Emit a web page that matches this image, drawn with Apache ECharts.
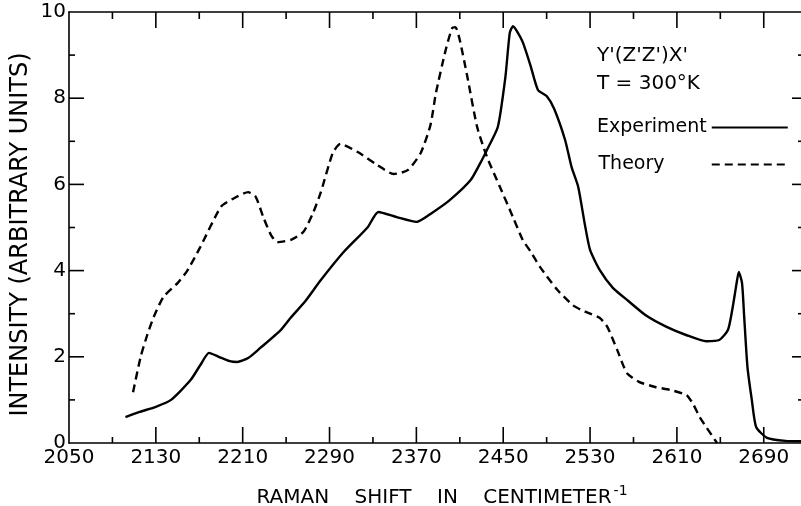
<!DOCTYPE html>
<html>
<head>
<meta charset="utf-8">
<script src="https://cdn.jsdelivr.net/npm/echarts@6/dist/echarts.min.js"></script>
<style>html,body{margin:0;padding:0;background:#fff}#c{width:801px;height:506px}</style>
</head>
<body>
<div id="c"></div>
<script>
// Raman shift (cm^-1) / intensity (arbitrary units)
var expX = [2102,2115,2130,2144,2162,2171,2179,2188,2198,2205,2215,2226,2245,2254,2268,2282,2303,2325,2335,2352,2370,2385,2401,2420,2429,2435,2445,2452,2456,2459,2463,2468,2475,2482,2490,2497,2507,2513,2519,2525,2530,2539,2551,2565,2582,2600,2619,2637,2649,2657,2661,2665,2667,2670,2672,2675,2679,2683,2693,2710,2728];
var expY = [0.60,0.72,0.84,1.0,1.46,1.81,2.09,2.0,1.90,1.88,1.97,2.2,2.62,2.9,3.3,3.78,4.43,5.0,5.36,5.24,5.13,5.35,5.64,6.1,6.5,6.8,7.33,8.49,9.51,9.67,9.54,9.3,8.77,8.19,8.05,7.75,7.03,6.4,5.95,5.1,4.48,4.01,3.6,3.3,2.95,2.7,2.5,2.36,2.39,2.62,3.09,3.71,3.97,3.71,2.92,1.76,1.0,0.37,0.12,0.05,0.04];
var thX = [2109,2116,2122,2128,2137,2150,2159,2171,2190,2202,2215,2222,2229,2236,2242,2255,2266,2275,2282,2293,2300,2316,2334,2349,2362,2374,2383,2388,2397,2403,2406,2410,2417,2426,2435,2447,2459,2468,2475,2484,2500,2514,2521,2530,2539,2546,2555,2564,2575,2590,2604,2619,2625,2631,2647];
var thY = [1.18,2.0,2.5,2.92,3.39,3.71,4.0,4.55,5.48,5.68,5.82,5.71,5.24,4.83,4.66,4.72,4.9,5.35,5.82,6.73,6.94,6.75,6.45,6.24,6.33,6.73,7.38,8.12,9.12,9.63,9.65,9.35,8.49,7.33,6.64,5.94,5.24,4.71,4.45,4.08,3.55,3.2,3.1,3.0,2.9,2.69,2.16,1.62,1.42,1.3,1.23,1.11,0.9,0.6,0.0];
var xMajor = [2050,2130,2210,2290,2370,2450,2530,2610,2690];
var xMinor = [2090,2170,2250,2330,2410,2490,2570,2650];
var yMajor = [0,2,4,6,8,10];
var yMinor = [1,3,5,7,9];
var seriesNames = ['Experiment','Theory'];
var headerLines = ["Y'(Z'Z')X'", 'T = 300°K'];
var xTitle = 'RAMAN    SHIFT    IN    CENTIMETER';
var yTitle = 'INTENSITY (ARBITRARY UNITS)';

function pairs(xs, ys){ return xs.map(function(x,i){ return [x, ys[i]]; }); }

var FONT = 'DejaVu Sans';
var XMIN = 2050, XMAX = 2728, YMIN = 0, YMAX = 10;
var lineBlack = {color:'#000', width:1.6};

function xMain(pos, labels){
  return {
    type:'value', min:XMIN, max:XMAX, position:pos, gridIndex:0, offset:0,
    axisLine:{show:true, onZero:false, lineStyle:lineBlack},
    axisTick:{show:false},
    axisLabel:labels ? {show:true, customValues:xMajor, color:'#000', fontSize:20, fontFamily:FONT, margin:5,
      formatter:function(v){ return String(v); }} : {show:false},
    splitLine:{show:false}
  };
}
function yMain(pos, labels){
  return {
    type:'value', min:YMIN, max:YMAX, position:pos, gridIndex:0, offset:0,
    axisLine:{show:true, onZero:false, lineStyle:lineBlack},
    axisTick:{show:false},
    axisLabel:labels ? {show:true, customValues:yMajor, color:'#000', fontSize:20, fontFamily:FONT, margin:3,
      formatter:function(v){ return String(v); }} : {show:false},
    splitLine:{show:false}
  };
}

var x0 = xMain('bottom', true);
x0.name = '{a|' + xTitle + '}{s|-1}';
x0.nameLocation = 'middle';
x0.nameGap = 41;
x0.nameTextStyle = {rich:{
  a:{fontSize:20, fontFamily:FONT, color:'#000', lineHeight:24, verticalAlign:'bottom', padding:[0,0,0,10]},
  s:{fontSize:14, fontFamily:FONT, color:'#000', lineHeight:24, verticalAlign:'top', padding:[0,0,0,2]}
}};
var y0 = yMain('left', true);
y0.name = yTitle;
y0.nameLocation = 'middle';
y0.nameGap = 36;
y0.nameMoveOverlap = false;
y0.nameTextStyle = {fontSize:24, fontFamily:FONT, color:'#000', padding:[0,14,0,0]};

var textGraphics = [
  {type:'text', left:597, top:46, style:{text:headerLines[0], font:'20px "DejaVu Sans"', fill:'#000'}},
  {type:'text', left:597, top:74, style:{text:headerLines[1], font:'20px "DejaVu Sans"', fill:'#000'}}
];

var option = {
  animation:false,
  backgroundColor:'#fff',
  grid:{left:69, right:-4, top:12, bottom:63, containLabel:false, outerBoundsMode:'none'},
  xAxis:[x0, xMain('top', false)],
  yAxis:[y0, yMain('right', false)],
  legend:{
    left:592, top:113, orient:'vertical', align:'right', itemWidth:76, itemHeight:14, itemGap:18,
    textStyle:{fontSize:19, fontFamily:FONT, color:'#000'},
    itemStyle:{color:'rgba(0,0,0,0)', borderWidth:0, opacity:0},
    formatter:function(n){ return n === 'Theory' ? n + '       ' : n; },
    data:seriesNames
  },
  graphic:textGraphics,
  series:[
    {name:seriesNames[0], type:'line', xAxisIndex:0, yAxisIndex:0, data:pairs(expX, expY), symbol:'none', smooth:0.2,
     lineStyle:{color:'#000', width:2.4}, itemStyle:{color:'#000'}},
    {name:seriesNames[1], type:'line', xAxisIndex:0, yAxisIndex:0, data:pairs(thX, thY), symbol:'none', smooth:0.2,
     lineStyle:{color:'#000', width:2.4, type:[8,5]}, itemStyle:{color:'#000'}}
  ]
};
var chart = echarts.init(document.getElementById('c'), null, {renderer:'canvas'});
chart.setOption(option);

// inward-pointing frame ticks, positioned through the chart's own scales
function toPx(x, y){ return chart.convertToPixel({xAxisIndex:0, yAxisIndex:0}, [x, y]); }
function tick(x1, y1, x2, y2){
  return {type:'line', silent:true, z:20, shape:{x1:x1, y1:y1, x2:x2, y2:y2}, style:{stroke:'#000', lineWidth:1.6}};
}
var ticks = [];
var yBottom = toPx(XMIN, YMIN)[1], yTop = toPx(XMIN, YMAX)[1];
var xLeft = toPx(XMIN, YMIN)[0], xRight = toPx(XMAX, YMIN)[0];
function addX(vals, lenB, lenT){
  vals.forEach(function(v){
    var px = toPx(v, YMIN)[0];
    ticks.push(tick(px, yBottom, px, yBottom - lenB));
    ticks.push(tick(px, yTop, px, yTop + lenT));
  });
}
function addY(vals, lenL, lenR){
  vals.forEach(function(v){
    var py = toPx(XMIN, v)[1];
    ticks.push(tick(xLeft, py, xLeft + lenL, py));
    ticks.push(tick(xRight, py, xRight - lenR, py));
  });
}
addX(xMajor.slice(1), 16, 16);
addX(xMinor, 6, 7);
addY(yMajor.slice(1, -1), 15, 13);
addY(yMinor, 6, 7);
chart.setOption({graphic: textGraphics.concat(ticks)});
</script>
</body>
</html>
